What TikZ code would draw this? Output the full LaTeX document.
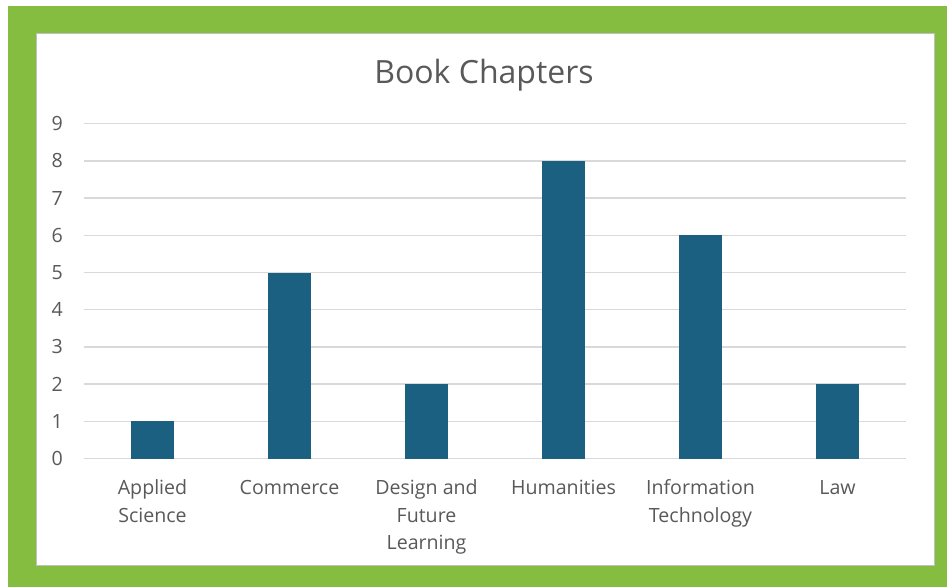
\documentclass[tikz,border=0pt]{standalone}
\usepackage{fontspec}
\setmainfont{Open Sans}
\definecolor{framegreen}{RGB}{132,189,64}
\definecolor{barblue}{RGB}{27,96,128}
\definecolor{gridgray}{RGB}{217,217,217}
\definecolor{txtgray}{RGB}{89,89,89}
\begin{document}
\begin{tikzpicture}[x=1pt,y=-1pt,
  bar/.style={fill=barblue,draw=none},
  gridln/.style={draw=gridgray,line width=1.5pt},
  ticklbl/.style={anchor=east,inner sep=0pt,text=txtgray,font=\fontsize{19.6}{22}\selectfont},
  catlbl/.style={anchor=base,inner sep=0pt,text=txtgray,font=\fontsize{19.6}{22}\selectfont},
  titlelbl/.style={anchor=base,inner sep=0pt,text=txtgray,font=\fontsize{32}{36}\selectfont}]
\useasboundingbox (0,0) rectangle (947,587);
\fill[white] (0,0) rectangle (947,587);
\fill[framegreen] (8,6) rectangle (947,587);
\fill[white,draw=gray!50,line width=0.6pt] (36,33) rectangle (934,565);
% title
\node[titlelbl] (title) at (484,83) {Book Chapters};
% gridlines and tick labels
\foreach \v in {0,...,9}{
  \coordinate (gl\v) at (84,{458.5-37.2*\v});
  \coordinate (gr\v) at (906,{458.5-37.2*\v});
  \draw[gridln] (gl\v) -- (gr\v);
  \node[ticklbl] (t\v) at (63,{458.5-37.2*\v}) {\v};
}
% bars
\foreach \i/\val in {0/1,1/5,2/2,3/8,4/6,5/2}{
  \fill[bar] ({152.5+137*\i-21.5},458.5) rectangle ({152.5+137*\i+21.5},{458.5-37.2*\val});
}
% category labels
\node[catlbl] (c0a) at (152.5,494.5) {Applied};
\node[catlbl] (c0b) at (152.5,522) {Science};
\node[catlbl] (c1) at (289.5,494.5) {Commerce};
\node[catlbl] (c2a) at (426.5,494.5) {Design and};
\node[catlbl] (c2b) at (426.5,522) {Future};
\node[catlbl] (c2c) at (426.5,549.5) {Learning};
\node[catlbl] (c3) at (563.5,494.5) {Humanities};
\node[catlbl] (c4a) at (700.5,494.5) {Information};
\node[catlbl] (c4b) at (700.5,522) {Technology};
\node[catlbl] (c5) at (837.5,494.5) {Law};
\end{tikzpicture}
\end{document}
